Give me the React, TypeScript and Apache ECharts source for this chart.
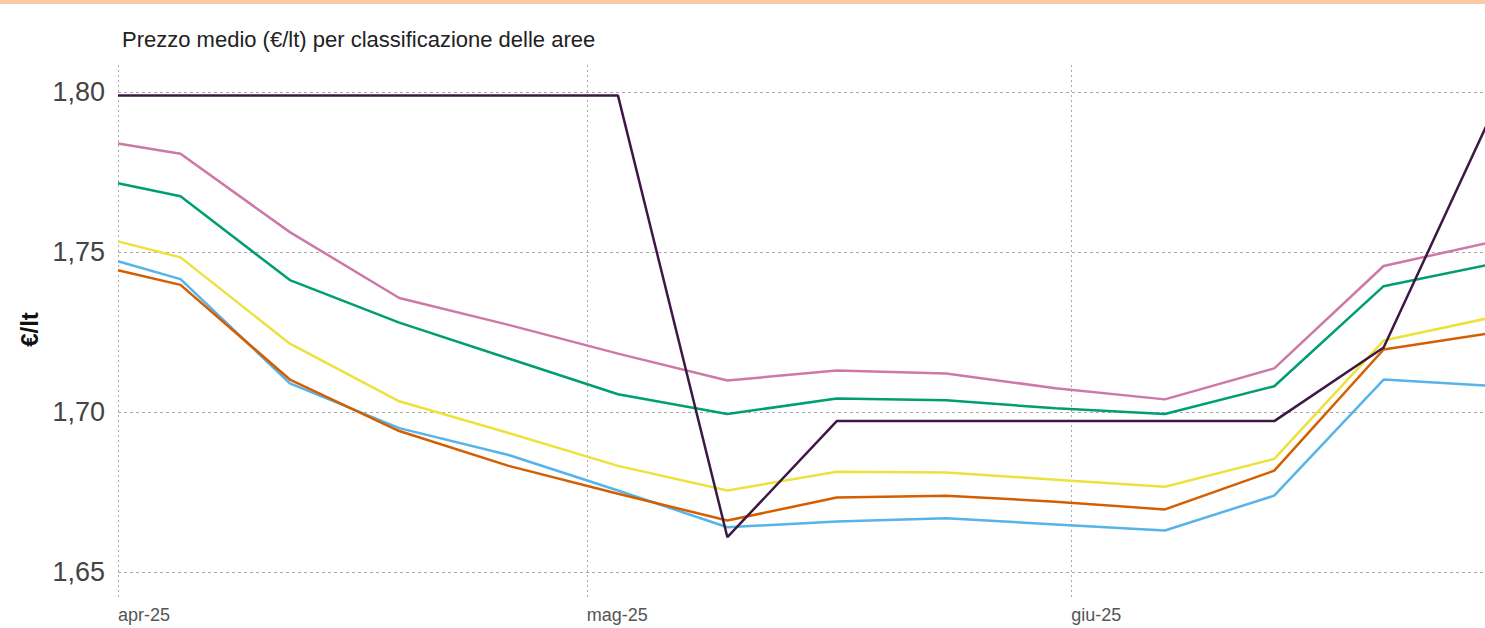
import React, { useEffect, useRef } from "react";
import * as echarts from "echarts";

const dates = [
  "2025-04-01", "2025-04-05", "2025-04-12", "2025-04-19", "2025-04-26",
  "2025-05-03", "2025-05-10", "2025-05-17", "2025-05-24", "2025-05-31",
  "2025-06-07", "2025-06-14", "2025-06-21", "2025-06-28",
];

const blueValues = [1.7472, 1.7416, 1.709, 1.695, 1.6866, 1.6755, 1.664, 1.6658, 1.6668, 1.6649, 1.663, 1.6739, 1.7102, 1.7082];
const orangeValues = [1.7444, 1.7398, 1.7102, 1.6941, 1.6832, 1.6745, 1.6661, 1.6733, 1.6739, 1.672, 1.6696, 1.6817, 1.7196, 1.7248];
const yellowValues = [1.7534, 1.7484, 1.7214, 1.7034, 1.6935, 1.6832, 1.6755, 1.6814, 1.6811, 1.6789, 1.6767, 1.6854, 1.7224, 1.7297];
const greenValues = [1.7716, 1.7675, 1.7413, 1.728, 1.7168, 1.7056, 1.6994, 1.7043, 1.7037, 1.7012, 1.6994, 1.7081, 1.7394, 1.7464];
const pinkValues = [1.784, 1.7808, 1.7563, 1.7357, 1.7273, 1.7183, 1.7099, 1.713, 1.7121, 1.7075, 1.704, 1.7137, 1.7457, 1.7533];
const purpleValues = [1.799, 1.799, 1.799, 1.799, 1.799, 1.799, 1.6609, 1.6972, 1.6972, 1.6972, 1.6972, 1.6972, 1.7202, 1.794];

const seriesNames = ["Area 1", "Area 2", "Area 3", "Area 4", "Area 5", "Area 6"];
const seriesColors = ["#56b4e9", "#d55e00", "#ede23c", "#009e73", "#cc79a7", "#3d1844"];
const seriesValues = [blueValues, orangeValues, yellowValues, greenValues, pinkValues, purpleValues];

const xTickDates = ["2025-04-01", "2025-05-01", "2025-06-01"];
const xTickLabels = ["apr-25", "mag-25", "giu-25"];
const yTicks = [1.65, 1.7, 1.75, 1.8];

const titleText = "Prezzo medio (€/lt) per classificazione delle aree";
const yAxisName = "€/lt";

function parseDate(s: string): number {
  const [y, m, d] = s.split("-").map(Number);
  return Date.UTC(y, m - 1, d);
}

export default function App() {
  const ref = useRef<HTMLDivElement>(null);
  useEffect(() => {
    if (!ref.current) return;
    const chart = echarts.init(ref.current, undefined, { renderer: "svg" });
    const tickTimes = xTickDates.map(parseDate);
    chart.setOption({
      animation: false,
      backgroundColor: "#ffffff",
      title: {
        text: titleText,
        left: 117,
        top: 23,
        textStyle: {
          fontFamily: "Liberation Sans, Arial, sans-serif",
          fontSize: 22,
          fontWeight: "normal",
          color: "#222222",
        },
      },
      graphic: [
        {
          type: "rect",
          left: 0,
          top: 0,
          shape: { width: 1500, height: 4 },
          style: { fill: "#fbc9a5" },
          silent: true,
        },
      ],
      grid: { left: 118, right: 7, top: 62, bottom: 31, containLabel: false },
      xAxis: {
        type: "value",
        min: parseDate("2025-04-01"),
        max: parseDate("2025-06-28"),
        axisLine: { show: false },
        axisTick: { show: false, customValues: tickTimes },
        axisLabel: {
          customValues: tickTimes,
          align: "left",
          margin: 9,
          fontFamily: "Liberation Sans, Arial, sans-serif",
          fontSize: 18,
          color: "#555555",
          formatter: (value: number) => {
            let best = 0;
            let bd = Infinity;
            tickTimes.forEach((t, i) => {
              const d = Math.abs(t - value);
              if (d < bd) { bd = d; best = i; }
            });
            return xTickLabels[best];
          },
        },
        splitLine: { show: false },
      },
      yAxis: {
        type: "value",
        min: 1.6422,
        max: 1.8095,
        name: yAxisName,
        nameLocation: "middle",
        nameGap: 76,
        nameTextStyle: {
          fontFamily: "Liberation Sans, Arial, sans-serif",
          fontSize: 24,
          fontWeight: "bold",
          color: "#111111",
        },
        axisLine: { show: false },
        axisTick: { show: false, customValues: yTicks },
        axisLabel: {
          customValues: yTicks,
          margin: 13,
          fontFamily: "Liberation Sans, Arial, sans-serif",
          fontSize: 27,
          color: "#444444",
          formatter: (v: number) => v.toFixed(2).replace(".", ","),
        },
        splitLine: {
          show: true,
          lineStyle: { color: "#aaaaaa", type: [3, 3], width: 1 },
        },
      },
      series: seriesValues.map((vals, i) => ({
        name: seriesNames[i],
        type: "line",
        showSymbol: false,
        symbol: "none",
        data: dates.map((d, j) => [parseDate(d), vals[j]]),
        lineStyle: { color: seriesColors[i], width: 2.5 },
        itemStyle: { color: seriesColors[i] },
        z: 2 + i,
        markLine: i === 0
          ? {
              silent: true,
              symbol: "none",
              label: { show: false },
              lineStyle: { color: "#aaaaaa", type: [2, 3], width: 1 },
              z: 1,
              data: tickTimes.map((t) => ({ xAxis: t })),
            }
          : undefined,
      })),
    });
    return () => chart.dispose();
  }, []);
  return (
    <div style={{ position: "fixed", left: 0, top: 0, width: 1485, height: 628, overflow: "hidden", background: "#fff" }}>
      <div ref={ref} style={{ width: 1500, height: 628 }} />
    </div>
  );
}
